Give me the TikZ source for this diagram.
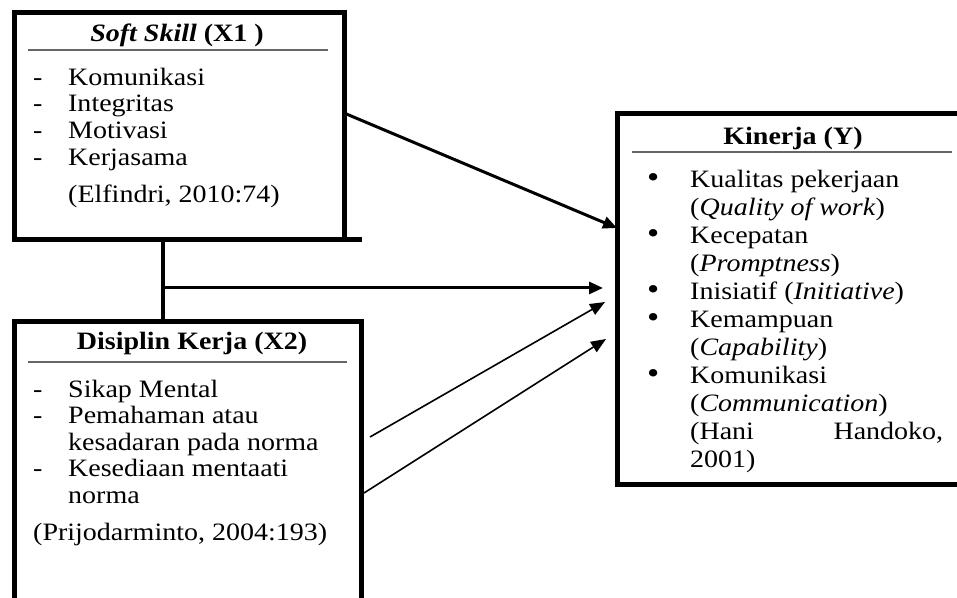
\documentclass[tikz,border=0pt]{standalone}
\usepackage{fontspec}
\setmainfont{Liberation Serif}[FakeStretch=1.12]
\usetikzlibrary{positioning,calc,arrows.meta}

\newcommand{\dashitem}[1]{\makebox[35pt][l]{-}#1}
\newcommand{\dotitem}[1]{\makebox[43pt][l]{\fontsize{31}{0}\selectfont\textbullet}#1}

\tikzset{
	varbox/.style={draw=black,line width=5pt,inner sep=0pt,outer sep=0pt,anchor=north west},
	rulebar/.style={draw=black!60,line width=2.5pt},
	headtext/.style={anchor=base,inner sep=0pt,font=\fontsize{25}{27}\selectfont\bfseries},
	itemtext/.style={anchor=base west,align=left,inner sep=0pt},
	fatarrow/.style={line width=3pt,-{Triangle[length=14pt,width=12pt]}},
	thinarrow/.style={line width=1.6pt,-{Triangle[length=15pt,width=12pt]}},
}

\begin{document}
\begin{tikzpicture}[x=1pt,y=1pt]
		\useasboundingbox (0,0) rectangle (957,597);
		\clip (0,0) rectangle (957,597);
		
		\node[varbox,minimum width=330pt,minimum height=227.5pt] (softskill) at (14,584.5) {};
		\node[varbox,minimum width=347pt,minimum height=305pt] (disiplin) at (14,275) {};
		\node[varbox,minimum width=373pt,minimum height=370pt] (kinerja) at (617,483) {};
		\draw[line width=5pt] (softskill.south east) -- ++(18,0);
		
		\node[headtext] (softhead) at (177,555) {\itshape Soft Skill \upshape(X1 )};
		\draw[rulebar] (28,547) -- (328,547);
		\node[headtext] (dishead) at (192,247) {Disiplin Kerja (X2)};
		\draw[rulebar] (28,235) -- (347,235);
		\node[headtext] (kinhead) at (793,452) {Kinerja (Y)};
		\draw[rulebar] (632,445) -- (952,445);
		
		\node[itemtext,font=\fontsize{25}{26.7}\selectfont] (softlist) at (33,394) {\dashitem{Komunikasi}\\ \dashitem{Integritas}\\ \dashitem{Motivasi}\\ \dashitem{Kerjasama}\\[11pt] \hspace*{35pt}(Elfindri, 2010:74)};
		\node[itemtext,font=\fontsize{25}{26.5}\selectfont] (dislist) at (33,57) {\dashitem{Sikap Mental}\\ \dashitem{Pemahaman atau}\\ \hspace*{35pt}kesadaran pada norma\\ \dashitem{Kesediaan mentaati}\\ \hspace*{35pt}norma\\[10.5pt] (Prijodarminto, 2004:193)};
		\node[itemtext,font=\fontsize{25}{27.9}\selectfont] (kinlist) at (647,130) {\dotitem{Kualitas pekerjaan}\\ \hspace*{43pt}(\textit{Quality of work})\\ \dotitem{Kecepatan}\\ \hspace*{43pt}(\textit{Promptness})\\ \dotitem{Inisiatif (\textit{Initiative})}\\ \dotitem{Kemampuan}\\ \hspace*{43pt}(\textit{Capability})\\ \dotitem{Komunikasi}\\ \hspace*{43pt}(\textit{Communication})\\ \hspace*{43pt}\makebox[253pt][s]{(Hani\hfill Handoko,}\\ \hspace*{43pt}2001)};
		
		\coordinate (j1) at ([xshift=149pt]softskill.south west);
		\coordinate (j2) at (j1 |- disiplin.north);
		\draw[line width=4.5pt] (j1) -- (j2);
		\coordinate (jmid) at ($(j1)!0.585!(j2)$);
		
		\coordinate (s1) at ([yshift=-100.5pt]softskill.north east);
		\coordinate (e1) at ([yshift=-114pt]kinerja.north west);
		\coordinate (e2) at ($(kinerja.west |- jmid)+(-14,0)$);
		\coordinate (s3) at ([xshift=9pt,yshift=-115pt]disiplin.north east);
		\coordinate (e3) at ([xshift=-12pt,yshift=-188pt]kinerja.north west);
		\coordinate (s4) at ([xshift=3pt,yshift=-171pt]disiplin.north east);
		\coordinate (e4) at ([xshift=-11pt,yshift=-225pt]kinerja.north west);
		
		\draw[fatarrow] (s1)--(e1);
		\draw[fatarrow] (jmid)--(e2);
		\draw[thinarrow] (s3)--(e3);
		\draw[thinarrow] (s4)--(e4);
	\end{tikzpicture}
\end{document}
